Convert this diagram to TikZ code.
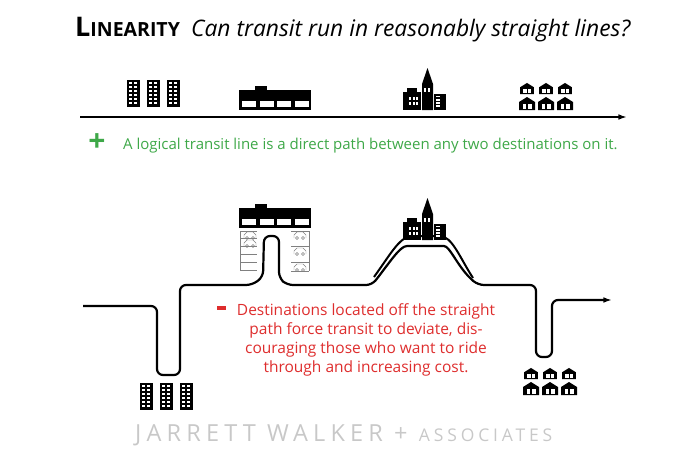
\documentclass[tikz,border=0pt]{standalone}
\usepackage{fontspec}
\setmainfont{Open Sans}
\usetikzlibrary{arrows.meta}
\definecolor{plusgreen}{RGB}{62,168,72}
\definecolor{minusred}{RGB}{222,45,45}
\definecolor{footgrey}{RGB}{200,200,200}
\tikzset{>=latex,
  route/.style={line width=2.2pt, line join=round},
  pics/towers/.style={code={
    \foreach \i in {0,1,2} {
      \fill (\i*20-26,0) rectangle ++(13,-27);
      \foreach \r in {0,...,5} {
        \fill[white] (\i*20-24,-3-\r*4) rectangle ++(3,-2);
        \fill[white] (\i*20-19,-3-\r*4) rectangle ++(3,-2);
      }
    }
  }},
  pics/mall/.style={code={
    \fill (-36,0) rectangle (36,-20);
    \fill (-20,-19) rectangle (-8,-24);
    \foreach \i in {0,...,3} \fill[white] (-33+\i*17.5,-3) rectangle ++(14,-6);
  }},
  pics/downtown/.style={code={
    \fill (-21,0) rectangle (-3,-18);
    \fill (-17,-18) rectangle (-7,-22);
    \foreach \c in {0,1,2} \foreach \r in {0,1} \fill[white] (-15+\c*3.5,-5-\r*5) rectangle ++(2.2,-3);
    \fill (-2,0) rectangle (9,-26) -- (3.5,-42) -- (-2,-26);
    \fill[white] (0,-18) rectangle ++(2,-4); \fill[white] (4,-18) rectangle ++(2,-4);
    \fill (10,0) rectangle (22,-16);
    \foreach \r in {0,...,3} \fill[white] (12,-3-\r*3.2) rectangle ++(4,-1.6);
  }},
  pics/house/.style={code={
    \fill (-8,0) -- (-8,-8) -- (0,-13) -- (8,-8) -- (8,0) -- cycle;
    \fill[white] (-4.5,-1.5) rectangle (4.5,-6);
    \fill (-0.6,-1.5) rectangle (0.6,-6);
  }},
  pics/houses/.style={code={
    \foreach \x in {-19,0,19} \pic[scale=0.85] at (\x,-16) {house};
    \foreach \x in {-19,0,19} \pic at (\x,0) {house};
  }},
  pics/car/.style={code={
    \draw[gray, line width=0.4pt] (-6,0) -- (-6,-3) -- (-3,-6) -- (3,-6) -- (6,-3) -- (6,0);
    \draw[gray, line width=0.4pt] (-3,0) circle (1.5) (3,0) circle (1.5);
  }},
}
\begin{document}
\begin{tikzpicture}[x=1pt,y=-1pt]
\useasboundingbox (0,0) rectangle (700,455);

% title
\node[anchor=base west, inner sep=0] (title) at (75,36)
  {\bfseries\fontsize{27}{27}\selectfont L\fontsize{19.5}{19.5}\selectfont INEARITY};
\node[anchor=base west, inner sep=0] (question) at (191,36)
  {\itshape\fontsize{22.8}{24}\selectfont Can transit run in reasonably straight lines?};

% straight line
\coordinate (s0) at (80,117);
\coordinate (s1) at (627,117);
\draw[line width=2pt, -{Latex[length=3mm,width=2mm]}] (s0) -- (s1);
\pic at (153,107) {towers};
\pic at (275,110) {mall};
\pic at (424,110) {downtown};
\pic at (546,110) {houses};

\node[text=plusgreen, font=\bfseries\fontsize{30}{30}\selectfont, inner sep=0] (plus) at (97,143) {+};
\node[text=plusgreen, anchor=west, inner sep=0, font=\fontsize{15}{16}\selectfont] (pro) at (123,146)
  {A logical transit line is a direct path between any two destinations on it.};

% winding line
\coordinate (w0) at (83,306);
\coordinate (w1) at (612,300);
\draw[route, rounded corners=6pt, -{Latex[length=3mm,width=2mm]}]
  (w0) -- (157,306) -- (157,375) -- (180,375) -- (180,285) -- (252,285) -- (263,277)
  -- (264,236) -- (279,236) -- (279,278) -- (287,285) -- (372,285)
  .. controls (390,262) and (400,246) .. (413,246) -- (438,246)
  .. controls (450,246) and (458,268) .. (478,285)
  -- (536,285) -- (536,357) -- (552,357) -- (552,300) -- (w1);
\draw[line width=2pt] (374,277) .. controls (392,252) and (400,236) .. (413,236) -- (440,236)
  .. controls (452,236) and (460,258) .. (473,278);

% parking
\foreach \y in {231,238,246,254,262,270} \draw[gray, line width=0.5pt] (240,\y) -- (257,\y);
\draw[gray, line width=0.5pt] (240,231) -- (240,270);
\foreach \y in {231,246,262,271} \draw[gray, line width=0.5pt] (291,\y) -- (309,\y);
\draw[gray, line width=0.5pt] (309,231) -- (309,271);
\pic at (250,238) {car};
\pic at (250,246) {car};
\pic at (300,238) {car};
\pic at (300,254) {car};
\pic at (300,270) {car};

\pic at (275,228) {mall};
\pic at (424,240) {downtown};
\pic at (166,410) {towers};
\pic at (550,395) {houses};

\node[fill=minusred, minimum width=9pt, minimum height=4pt, inner sep=0] (minus) at (221,308) {};
\node[text=minusred, align=center, inner sep=0, font=\fontsize{15.5}{19}\selectfont] (con) at (366,340)
  {Destinations located off the straight\\path force transit to deviate, dis-\\couraging those who want to ride\\through and increasing cost.};

% footer
\node[text=footgrey, anchor=base west, inner sep=0] (foot) at (135,441)
  {\fontsize{23.5}{23.5}\selectfont\addfontfeature{LetterSpace=22}JARRETT WALKER + \fontsize{17.5}{17.5}\selectfont\addfontfeature{LetterSpace=22}ASSOCIATES};
\end{tikzpicture}
\end{document}
